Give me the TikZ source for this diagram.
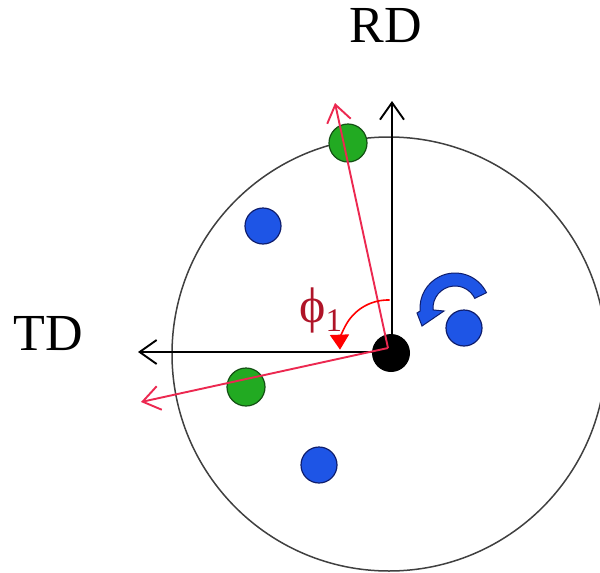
\documentclass[tikz,border=0pt]{standalone}
\usepackage{fontspec}
\setmainfont{Liberation Serif}
\usetikzlibrary{arrows.meta,calc}
\definecolor{lred}{RGB}{236,40,80}
\definecolor{dred}{RGB}{175,20,40}
\definecolor{gfill}{RGB}{34,170,34}
\definecolor{gline}{RGB}{20,80,20}
\definecolor{bfill}{RGB}{30,85,230}
\definecolor{bline}{RGB}{15,30,110}
\tikzset{
  gdot/.style={circle,fill=gfill,draw=gline,line width=1.2pt,minimum size=38pt,inner sep=0},
  bdot/.style={circle,fill=bfill,draw=bline,line width=1.2pt,minimum size=36pt,inner sep=0},
  axis/.style={black,line width=1.9pt,-{Straight Barb[length=17pt,width=24pt]}},
  raxis/.style={lred,line width=1.9pt,-{Straight Barb[length=17pt,width=24pt]}},
  lab/.style={font=\fontsize{52}{52}\selectfont,inner sep=0,anchor=base},
}
\begin{document}
\begin{tikzpicture}[x=1pt,y=1pt]
\useasboundingbox (0,0) rectangle (600,-573);
\fill[white] (0,0) rectangle (600,-573);
\draw[line width=1.5pt,black!75] (389,-354) circle[radius=217];
\node[gdot] (g1) at (348,-143) {};
\node[gdot] (g2) at (246,-387) {};
\node[bdot] (b1) at (263,-226) {};
\node[bdot] (b2) at (319,-465) {};
\node[bdot] (b3) at (464,-328) {};
\node[circle,fill=black,minimum size=38pt,inner sep=0] (c) at (391,-353) {};
\coordinate (O) at (392,-352);
\coordinate (R) at (388,-348);
\coordinate (rd) at (392,-101);
\coordinate (td) at (138,-352);
\coordinate (rd1) at (335,-103);
\coordinate (td1) at (141,-402);
\draw[axis] (O) -- (rd);
\draw[axis] (O) -- (td);
\draw[raxis] (R) -- (rd1);
\draw[raxis] (R) -- (td1);
\draw[red,line width=1.6pt,-{Triangle[length=15pt,width=19pt]}] (R) ++(88:48) arc[start angle=88,end angle=182,radius=48];
\node[text=dred,inner sep=0,anchor=base west] (phi) at (299,-322) {\fontsize{50}{50}\selectfont ϕ\raisebox{-9pt}{\fontsize{33}{33}\selectfont 1}};
\fill[bfill,draw=bline,line width=1pt] (455,-308) ++(26:35) arc[start angle=26,end angle=185,radius=35] -- (417,-313) -- (422,-326) -- (444,-311) -- ($(455,-308)+(185:22)$) arc[start angle=185,end angle=26,radius=22] -- cycle;
\node[lab] (RD) at (386,-42) {RD};
\node[lab] (TD) at (48,-350) {TD};
\end{tikzpicture}
\end{document}
